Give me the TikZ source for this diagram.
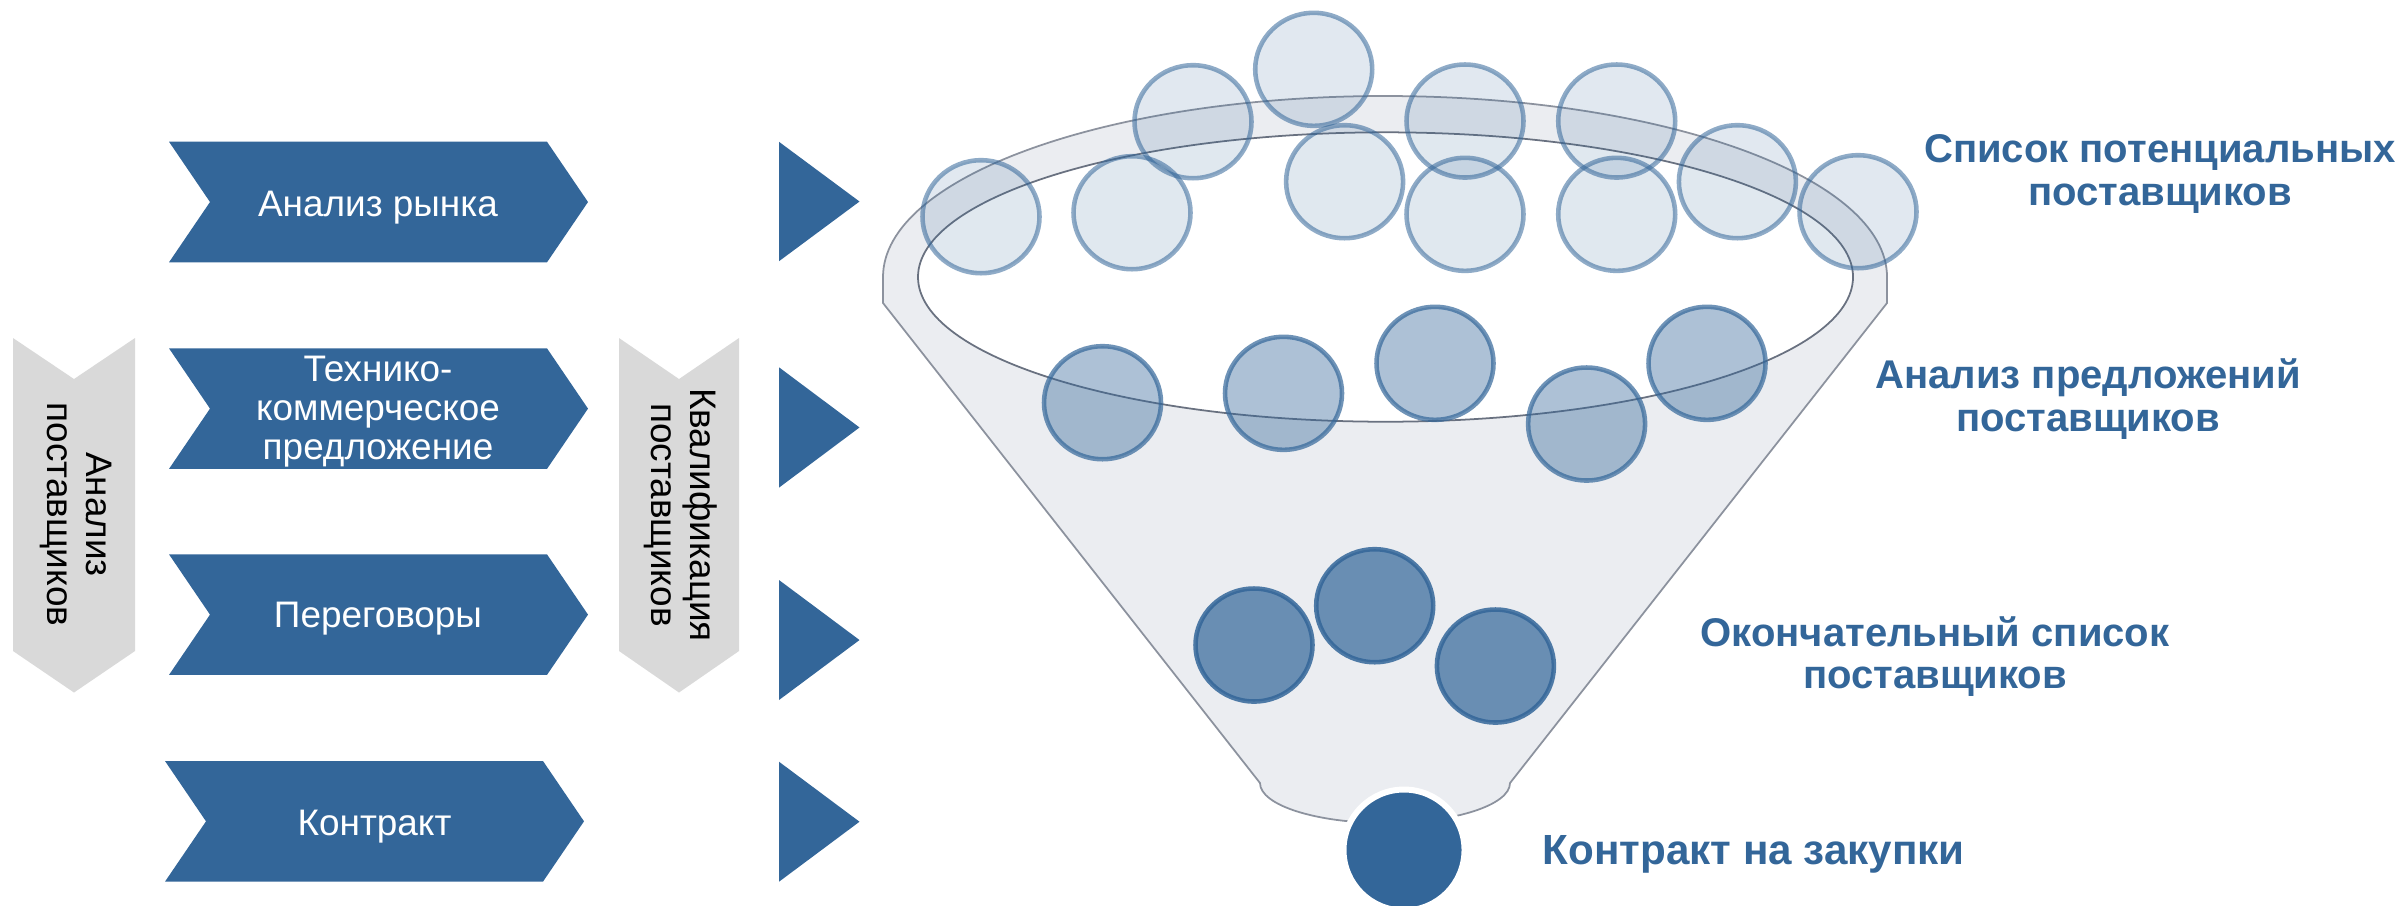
\documentclass[tikz,border=0pt]{standalone}
\usepackage{fontspec}
\setmainfont{Liberation Sans}

\definecolor{stageblue}{RGB}{51,102,153}
\definecolor{sidegray}{RGB}{217,217,217}
\definecolor{funnelgray}{RGB}{235,237,241}
\definecolor{rimline}{RGB}{140,146,158}
\definecolor{mouthline}{RGB}{105,113,128}

\tikzset{
  stagetext/.style={text=white, font=\fontsize{10.5}{11}\selectfont, align=center, inner sep=0pt},
  sidetext/.style={font=\fontsize{10.5}{11.1}\selectfont, align=center, inner sep=0pt, rotate=-90},
  levellabel/.style={text=stageblue, font=\bfseries\fontsize{11.4}{12.2}\selectfont, align=center, inner sep=0pt},
  bubble/.style={draw=stageblue, fill=stageblue, line width=1.3pt},
}

\begin{document}
\begin{tikzpicture}
\useasboundingbox (0,0) rectangle (24.02,-9.05);

\foreach \x/\y in {1.69/-1.417, 1.69/-3.483, 1.69/-5.543, 1.65/-7.61}
  \fill[stageblue] (\x,\y) -- ++(3.78,0) -- ++(0.41,-0.603) -- ++(-0.41,-0.603) -- ++(-3.78,0) -- ++(0.41,0.603) -- cycle;

\node[stagetext, anchor=base] (market) at (3.78,-2.16) {Анализ рынка};
\node[stagetext] (offer) at (3.78,-4.116) {Технико-\\коммерческое\\предложение};
\node[stagetext, anchor=base] (talks) at (3.78,-6.275) {Переговоры};
\node[stagetext, anchor=base] (contract) at (3.745,-8.35) {Контракт};

\fill[sidegray] (0.13,-3.38) -- (0.74,-3.79) -- (1.35,-3.38) -- (1.35,-6.51) -- (0.74,-6.925) -- (0.13,-6.51) -- cycle;
\fill[sidegray] (6.19,-3.38) -- (6.79,-3.79) -- (7.39,-3.38) -- (7.39,-6.51) -- (6.79,-6.925) -- (6.19,-6.51) -- cycle;
\node[sidetext] (supanalysis) at (0.762,-5.145) {Анализ\\поставщиков};
\node[sidetext] (supqual) at (6.81,-5.15) {Квалификация\\поставщиков};

\foreach \t/\b in {1.418/2.612, 3.673/4.876, 5.80/7.0, 7.617/8.817}
  \fill[stageblue] (7.79,-\t) -- (8.595,{-(\t+\b)/2}) -- (7.79,-\b) -- cycle;

\filldraw[fill=funnelgray, draw=rimline, line width=0.5pt] (8.83,-3.03) -- (8.83,-2.77)
  arc[start angle=180, end angle=0, x radius=5.02, y radius=1.81] -- (18.87,-3.03) -- (15.10,-7.83)
  arc[start angle=0, end angle=-180, x radius=1.25, y radius=0.40] -- cycle;
\filldraw[fill=white, draw=mouthline, line width=0.5pt] (13.855,-2.77) ellipse [x radius=4.675, y radius=1.447];

\foreach \x/\y in {9.81/-2.167, 11.32/-2.127, 11.93/-1.217, 13.137/-0.693, 13.446/-1.817, 14.65/-1.21,
    14.65/-2.143, 16.167/-1.21, 16.167/-2.143, 17.374/-1.817, 18.58/-2.117}
  \draw[bubble, fill opacity=0.15, draw opacity=0.55] (\x,\y) ellipse [x radius=0.585, y radius=0.565];
\foreach \x/\y in {11.025/-4.027, 12.835/-3.933, 14.35/-3.633, 15.866/-4.24, 17.07/-3.633}
  \draw[bubble, fill opacity=0.4, draw opacity=0.7] (\x,\y) ellipse [x radius=0.585, y radius=0.565];
\foreach \x/\y in {12.54/-6.45, 13.747/-6.057, 14.954/-6.66}
  \draw[bubble, fill opacity=0.7, draw opacity=0.85] (\x,\y) ellipse [x radius=0.585, y radius=0.565];
\filldraw[fill=stageblue, draw=white, line width=1.7pt] (14.04,-8.5) circle (0.605);

\node[levellabel] (longlist) at (21.60,-1.738) {Список потенциальных\\поставщиков};
\node[levellabel] (offers) at (20.88,-3.99) {Анализ предложений\\поставщиков};
\node[levellabel] (shortlist) at (19.35,-6.565) {Окончательный список\\поставщиков};
\node[levellabel, font=\bfseries\fontsize{12}{13}\selectfont, anchor=base west] (purchase) at (15.42,-8.64) {Контракт на закупки};

\end{tikzpicture}
\end{document}
